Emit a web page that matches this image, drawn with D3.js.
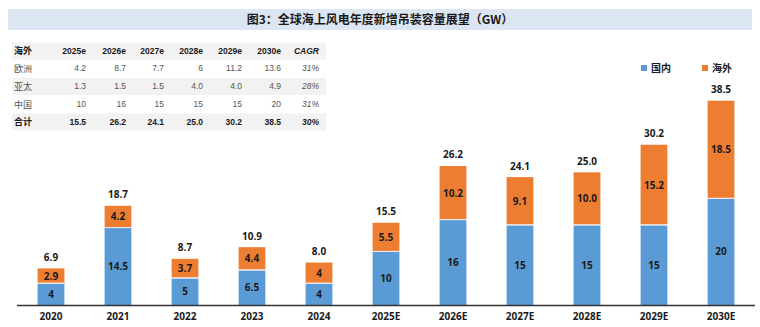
<!DOCTYPE html>
<html>
<head>
<meta charset="utf-8">
<script src="https://cdn.jsdelivr.net/npm/d3@7"></script>
<style>
  body { margin: 0; background: #fff; }
  svg { display: block; font-family: "Noto Sans CJK SC", "Open Sans", sans-serif; }
</style>
</head>
<body>
<div id="chart"></div>
<script>
////////////// DATA //////////////
const years = ["2020", "2021", "2022", "2023", "2024", "2025E", "2026E", "2027E", "2028E", "2029E", "2030E"];
const domestic = [4, 14.5, 5, 6.5, 4, 10, 16, 15, 15, 15, 20];
const overseas = [2.9, 4.2, 3.7, 4.4, 4, 5.5, 10.2, 9.1, 10.0, 15.2, 18.5];
const totals = ["6.9", "18.7", "8.7", "10.9", "8.0", "15.5", "26.2", "24.1", "25.0", "30.2", "38.5"];
const domesticLabels = ["4", "14.5", "5", "6.5", "4", "10", "16", "15", "15", "15", "20"];
const overseasLabels = ["2.9", "4.2", "3.7", "4.4", "4", "5.5", "10.2", "9.1", "10.0", "15.2", "18.5"];

const tableHeader = ["海外", "2025e", "2026e", "2027e", "2028e", "2029e", "2030e", "CAGR"];
const tableRowNames = ["欧洲", "亚太", "中国", "合计"];
const tableEurope = ["4.2", "8.7", "7.7", "6", "11.2", "13.6", "31%"];
const tableAsia = ["1.3", "1.5", "1.5", "4.0", "4.0", "4.9", "28%"];
const tableChina = ["10", "16", "15", "15", "15", "20", "31%"];
const tableTotal = ["15.5", "26.2", "24.1", "25.0", "30.2", "38.5", "30%"];

const title = "图3：全球海上风电年度新增吊装容量展望（GW）";
const seriesNames = ["国内", "海外"];

////////////// CHART //////////////
const width = 760, height = 327;
const blue = "#5b9bd5", orange = "#ed7d31";

const svg = d3.select("#chart").append("svg")
    .attr("width", width)
    .attr("height", height);

// title band
svg.append("rect")
    .attr("x", 8).attr("y", 9)
    .attr("width", 744).attr("height", 21)
    .attr("fill", "#dce6f2");
svg.append("text")
    .attr("x", width / 2).attr("y", 20)
    .attr("dy", "0.35em")
    .attr("text-anchor", "middle")
    .style("font-size", "12px")
    .style("font-weight", "bold")
    .attr("fill", "#1a1a1a")
    .text(title);

// table
const tableRows = [tableEurope, tableAsia, tableChina, tableTotal];
const colRight = [86, 126, 164, 203, 242, 281, 319];
const rowY = [51, 68.5, 86.5, 104.5, 122];
const table = svg.append("g").attr("class", "table");

[0, 2, 4].forEach(i => {
    table.append("rect")
        .attr("x", 12).attr("y", rowY[i] - 8.5)
        .attr("width", 314).attr("height", 17)
        .attr("fill", "#f2f2f2");
});

table.append("text")
    .attr("x", 14).attr("y", rowY[0]).attr("dy", "0.35em")
    .style("font-size", "9px").style("font-weight", "bold")
    .attr("fill", "#1a1a1a")
    .text(tableHeader[0]);

table.selectAll("text.head")
    .data(tableHeader.slice(1))
    .enter().append("text")
    .attr("class", "head")
    .attr("x", (d, i) => colRight[i])
    .attr("y", rowY[0]).attr("dy", "0.35em")
    .attr("text-anchor", "end")
    .style("font-family", "'Liberation Sans', Arial, sans-serif")
    .style("font-size", "8.5px").style("font-weight", "bold")
    .style("font-style", (d, i) => i === 6 ? "italic" : "normal")
    .attr("fill", "#1a1a1a")
    .text(d => d);

tableRows.forEach((row, r) => {
    const isTotal = r === 3;
    table.append("text")
        .attr("x", 14).attr("y", rowY[r + 1]).attr("dy", "0.35em")
        .style("font-size", "9px")
        .style("font-weight", isTotal ? "bold" : "normal")
        .attr("fill", isTotal ? "#1a1a1a" : "#555")
        .text(tableRowNames[r]);

    table.selectAll("text.r" + r)
        .data(row)
        .enter().append("text")
        .attr("class", "r" + r)
        .attr("x", (d, i) => colRight[i])
        .attr("y", rowY[r + 1]).attr("dy", "0.35em")
        .attr("text-anchor", "end")
        .style("font-family", "'Liberation Sans', Arial, sans-serif")
        .style("font-size", "8.5px")
        .style("font-weight", isTotal ? "bold" : "normal")
        .style("font-style", (d, i) => i === 6 ? "italic" : "normal")
        .attr("fill", isTotal ? "#1a1a1a" : "#555")
        .text(d => d);
});

// legend
const legend = svg.append("g").attr("class", "legend");
[[blue, 644], [orange, 705]].forEach((c, i) => {
    legend.append("rect")
        .attr("x", c[1] - 3).attr("y", 65)
        .attr("width", 6).attr("height", 6)
        .attr("fill", c[0]);
    legend.append("text")
        .attr("x", c[1] + 7).attr("y", 68).attr("dy", "0.35em")
        .style("font-size", "10px").style("font-weight", "bold")
        .attr("fill", "#1a1a1a")
        .text(seriesNames[i]);
});

// bars
const baseline = 305;
const x = d3.scaleBand()
    .domain(years)
    .range([17.5, 754.5])
    .paddingInner(0.6)
    .paddingOuter(0.3);

const y = d3.scaleLinear()
    .domain([0, 38.5])
    .range([baseline, 100.7]);

const data = years.map((yr, i) => ({
    year: yr,
    dom: domestic[i],
    ovs: overseas[i],
    total: totals[i],
    domLabel: domesticLabels[i],
    ovsLabel: overseasLabels[i]
}));

const bars = svg.append("g").attr("class", "bars")
    .selectAll("g")
    .data(data)
    .enter()
    .append("g");

bars.append("rect")
    .attr("x", d => x(d.year))
    .attr("y", d => y(d.dom))
    .attr("width", x.bandwidth())
    .attr("height", d => baseline - y(d.dom))
    .attr("fill", blue);

bars.append("rect")
    .attr("x", d => x(d.year))
    .attr("y", d => y(d.dom + d.ovs))
    .attr("width", x.bandwidth())
    .attr("height", d => y(d.dom) - y(d.dom + d.ovs) - 1)
    .attr("fill", orange);

bars.append("line")
    .attr("x1", d => x(d.year))
    .attr("x2", d => x(d.year) + x.bandwidth())
    .attr("y1", d => y(d.dom) - 0.5)
    .attr("y2", d => y(d.dom) - 0.5)
    .style("stroke", "#e8e8e8")
    .style("stroke-width", 1);

const labelStyle = sel => sel
    .attr("text-anchor", "middle")
    .attr("dy", "0.35em")
    .style("font-family", "'Open Sans', 'Noto Sans', sans-serif")
    .style("font-size", "10px")
    .style("font-weight", "bold")
    .attr("fill", "#1a1a1a");

bars.append("text")
    .attr("x", d => x(d.year) + x.bandwidth() / 2)
    .attr("y", d => (y(d.dom) + baseline) / 2)
    .call(labelStyle)
    .text(d => d.domLabel);

bars.append("text")
    .attr("x", d => x(d.year) + x.bandwidth() / 2)
    .attr("y", d => (y(d.dom) + y(d.dom + d.ovs)) / 2)
    .call(labelStyle)
    .text(d => d.ovsLabel);

bars.append("text")
    .attr("x", d => x(d.year) + x.bandwidth() / 2)
    .attr("y", d => y(d.dom + d.ovs) - 11)
    .call(labelStyle)
    .text(d => d.total);

// x axis
const xAxis = svg.append("g")
    .attr("transform", `translate(0,${baseline})`)
    .call(d3.axisBottom(x).tickSize(0).tickPadding(8));

xAxis.select(".domain").remove();
svg.append("line")
    .attr("x1", 17).attr("x2", 755)
    .attr("y1", baseline + 0.5).attr("y2", baseline + 0.5)
    .style("stroke", "#333")
    .style("stroke-width", 1.5);

xAxis.selectAll("text")
    .style("font-family", "'Open Sans', 'Noto Sans', sans-serif")
    .style("font-size", "10px")
    .style("font-weight", "bold")
    .attr("fill", "#1a1a1a");
</script>
</body>
</html>
